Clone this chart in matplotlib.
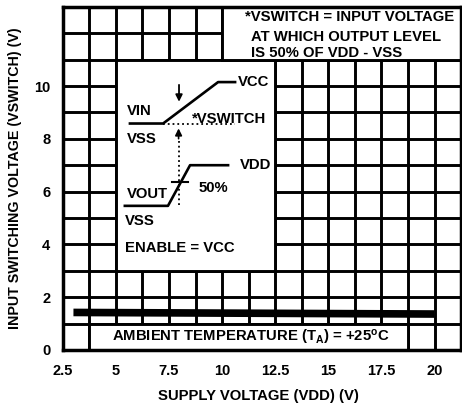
import matplotlib
matplotlib.use("Agg")
import matplotlib.pyplot as plt
from matplotlib.patches import Rectangle

plt.rcParams['font.family'] = ['Liberation Sans', 'DejaVu Sans']
plt.rcParams['font.weight'] = 'bold'
plt.rcParams['mathtext.fontset'] = 'custom'
plt.rcParams['mathtext.rm'] = 'Liberation Sans:bold'
plt.rcParams['mathtext.it'] = 'Liberation Sans:bold'
plt.rcParams['mathtext.bf'] = 'Liberation Sans:bold'

# Data
supply_voltage = [3, 20]
vswitch = [1.42, 1.36]
x_ticks = [2.5, 5, 7.5, 10, 12.5, 15, 17.5, 20]
x_tick_labels = ["2.5", "5", "7.5", "10", "12.5", "15", "17.5", "20"]
y_ticks = [0, 2, 4, 6, 8, 10]
y_tick_labels = ["0", "2", "4", "6", "8", "10"]

fig = plt.figure(figsize=(4.62, 4.05), dpi=100)
ax = fig.add_axes([0.136, 0.136, 0.862, 0.847])
ax.set_xlim(2.5, 21.25)
ax.set_ylim(0, 13)

lw = 2.1
ax.set_xticks(x_ticks)
ax.set_xticklabels(x_tick_labels)
ax.set_yticks(y_ticks)
ax.set_yticklabels(y_tick_labels)
ax.set_xticks([2.5 + 1.25 * i for i in range(16)], minor=True)
ax.set_yticks(list(range(14)), minor=True)
ax.set_axisbelow(True)
ax.grid(which='both', color='black', linewidth=lw)
ax.tick_params(which='both', length=0, labelsize=10.5)
ax.tick_params(axis='x', pad=10)
ax.tick_params(axis='y', pad=9)
for s in ax.spines.values():
    s.set_linewidth(lw + 0.4)

# white boxes covering grid
for (x0, y0, w, h) in [(5, 3, 7.5, 8), (10, 11, 11.25, 2), (3.75, 0, 15, 1)]:
    ax.add_patch(Rectangle((x0, y0), w, h, facecolor='white', edgecolor='black',
                           linewidth=lw, zorder=1))

# main curve
ax.plot(supply_voltage, vswitch, color='black', linewidth=5.5, solid_capstyle='butt', zorder=3)

fs = 10.7
# annotation text top-right
ax.text(11.1, 12.6, "*VSWITCH = INPUT VOLTAGE", fontsize=fs, ha='left', va='center', zorder=4)
ax.text(11.35, 11.85, "AT WHICH OUTPUT LEVEL", fontsize=fs, ha='left', va='center', zorder=4)
ax.text(11.35, 11.25, "IS 50% OF VDD - VSS", fontsize=fs, ha='left', va='center', zorder=4)

# bottom annotation
ax.text(4.8, 0.46, r"AMBIENT TEMPERATURE (T$_\mathrm{A}$) = +25$^\mathrm{o}$C", fontsize=fs,
        ha='left', va='center', zorder=4)

# inset diagram
ax.plot([5.66, 7.22, 9.81, 10.61], [8.58, 8.58, 10.15, 10.15], color='black', lw=1.9, zorder=4)
ax.plot([7.22, 10.61], [8.58, 8.58], color='black', lw=1.3, ls=':', zorder=4)
ax.plot([5.42, 7.45, 8.49, 10.28], [5.46, 5.46, 7.0, 7.0], color='black', lw=1.9, zorder=4)
ax.plot([7.64, 8.40], [6.35, 6.35], color='black', lw=1.5, zorder=4)
ax.annotate("", xy=(7.97, 9.3), xytext=(7.97, 10.15),
            arrowprops=dict(arrowstyle='-|>', color='black', lw=1.3, mutation_scale=10), zorder=4)
ax.plot([7.95, 7.95], [5.5, 8.0], color='black', lw=1.3, ls=':', zorder=4)
ax.annotate("", xy=(7.95, 8.5), xytext=(7.95, 7.9),
            arrowprops=dict(arrowstyle='-|>', color='black', lw=1.2, mutation_scale=10), zorder=4)

ax.text(5.52, 9.04, "VIN", fontsize=fs, ha='left', va='center', zorder=4)
ax.text(5.52, 8.0, "VSS", fontsize=fs, ha='left', va='center', zorder=4)
ax.text(10.75, 10.15, "VCC", fontsize=fs, ha='left', va='center', zorder=4)
ax.text(8.6, 8.77, "*VSWITCH", fontsize=fs, ha='left', va='center', zorder=4)
ax.text(10.85, 7.0, "VDD", fontsize=fs, ha='left', va='center', zorder=4)
ax.text(8.87, 6.15, "50%", fontsize=fs, ha='left', va='center', zorder=4)
ax.text(5.5, 5.9, "VOUT", fontsize=fs, ha='left', va='center', zorder=4)
ax.text(5.42, 4.88, "VSS", fontsize=fs, ha='left', va='center', zorder=4)
ax.text(5.42, 3.85, "ENABLE = VCC", fontsize=fs, ha='left', va='center', zorder=4)

ax.set_xlabel("SUPPLY VOLTAGE (VDD) (V)", fontsize=10.7, fontweight='bold')
ax.set_ylabel("INPUT SWITCHING VOLTAGE (VSWITCH) (V)", fontsize=10.3, fontweight='bold')
ax.xaxis.set_label_coords(0.49, -0.115)
ax.yaxis.set_label_coords(-0.103, 0.5)

fig.savefig("out.png", dpi=100)
